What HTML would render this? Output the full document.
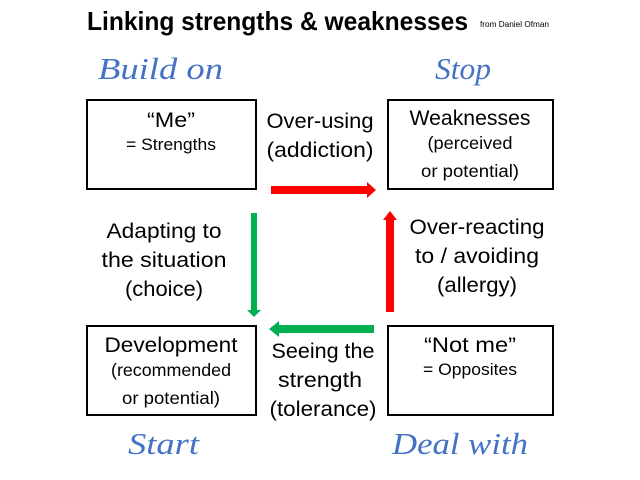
<!DOCTYPE html>
<html>
<head>
<meta charset="utf-8">
<style>
html,body{margin:0;padding:0;background:#fff;width:640px;height:480px;overflow:hidden}
svg{display:block}
text{font-family:"Liberation Sans",sans-serif;fill:#000}
.s{font-family:"Liberation Serif",serif;font-style:italic;fill:#4472c4;font-size:31px}
.l{font-size:21.5px}
.t{font-size:21.5px}
.m{font-size:17.5px}
.c{font-size:16.5px}
</style>
</head>
<body>
<svg width="640" height="480" viewBox="0 0 640 480" xmlns="http://www.w3.org/2000/svg">
<rect width="640" height="480" fill="#fff"/>
<text x="87" y="30" font-size="26" font-weight="700" textLength="381" lengthAdjust="spacingAndGlyphs">Linking strengths &amp; weaknesses</text>
<text x="480" y="27" font-size="8" fill="#222" textLength="69" lengthAdjust="spacingAndGlyphs">from Daniel Ofman</text>

<text class="s" x="98" y="79" textLength="125" lengthAdjust="spacingAndGlyphs">Build on</text>
<text class="s" x="435" y="79" textLength="56" lengthAdjust="spacingAndGlyphs">Stop</text>
<text class="s" x="128" y="454" textLength="71" lengthAdjust="spacingAndGlyphs">Start</text>
<text class="s" x="392" y="454" textLength="136" lengthAdjust="spacingAndGlyphs">Deal with</text>

<g fill="#fff" stroke="#000" stroke-width="2">
<rect x="87" y="100" width="169" height="89"/>
<rect x="388" y="100" width="165" height="89"/>
<rect x="87" y="326" width="169" height="89"/>
<rect x="388" y="326" width="165" height="89"/>
</g>

<polygon fill="#ff0000" points="271,186 367,186 367,182 376,190 367,198 367,194 271,194"/>
<polygon fill="#ff0000" points="386,312 386,220 383,220 390,211 397,220 394,220 394,312"/>
<polygon fill="#00b050" points="251,213 257,213 257,310 261,310 254,317 247,310 251,310"/>
<polygon fill="#00b050" points="374,325 279,325 279,321 269,329 279,337 279,333 374,333"/>

<g text-anchor="middle">
<text class="t" x="171" y="127" textLength="48" lengthAdjust="spacingAndGlyphs">“Me”</text>
<text class="c" x="171" y="150" textLength="90" lengthAdjust="spacingAndGlyphs">= Strengths</text>

<text class="t" x="470" y="125" textLength="121" lengthAdjust="spacingAndGlyphs">Weaknesses</text>
<text class="m" x="470" y="149" textLength="85" lengthAdjust="spacingAndGlyphs">(perceived</text>
<text class="m" x="470" y="177" textLength="98" lengthAdjust="spacingAndGlyphs">or potential)</text>

<text class="t" x="171" y="352" textLength="133" lengthAdjust="spacingAndGlyphs">Development</text>
<text class="m" x="171" y="376" textLength="120" lengthAdjust="spacingAndGlyphs">(recommended</text>
<text class="m" x="171" y="404" textLength="98" lengthAdjust="spacingAndGlyphs">or potential)</text>

<text class="t" x="470" y="352" textLength="92" lengthAdjust="spacingAndGlyphs">“Not me”</text>
<text class="c" x="470" y="375" textLength="94" lengthAdjust="spacingAndGlyphs">= Opposites</text>

<text class="l" x="320" y="128" textLength="107" lengthAdjust="spacingAndGlyphs">Over-using</text>
<text class="l" x="320" y="157" textLength="107" lengthAdjust="spacingAndGlyphs">(addiction)</text>

<text class="l" x="164" y="238" textLength="115" lengthAdjust="spacingAndGlyphs">Adapting to</text>
<text class="l" x="164" y="267" textLength="125" lengthAdjust="spacingAndGlyphs">the situation</text>
<text class="l" x="164" y="296" textLength="78" lengthAdjust="spacingAndGlyphs">(choice)</text>

<text class="l" x="477" y="234" textLength="135" lengthAdjust="spacingAndGlyphs">Over-reacting</text>
<text class="l" x="477" y="263" textLength="124" lengthAdjust="spacingAndGlyphs">to / avoiding</text>
<text class="l" x="477" y="292" textLength="80" lengthAdjust="spacingAndGlyphs">(allergy)</text>

<text class="l" x="323" y="358" textLength="103" lengthAdjust="spacingAndGlyphs">Seeing the</text>
<text class="l" x="320" y="387" textLength="84" lengthAdjust="spacingAndGlyphs">strength</text>
<text class="l" x="323" y="416" textLength="107" lengthAdjust="spacingAndGlyphs">(tolerance)</text>
</g>
</svg>
</body>
</html>
